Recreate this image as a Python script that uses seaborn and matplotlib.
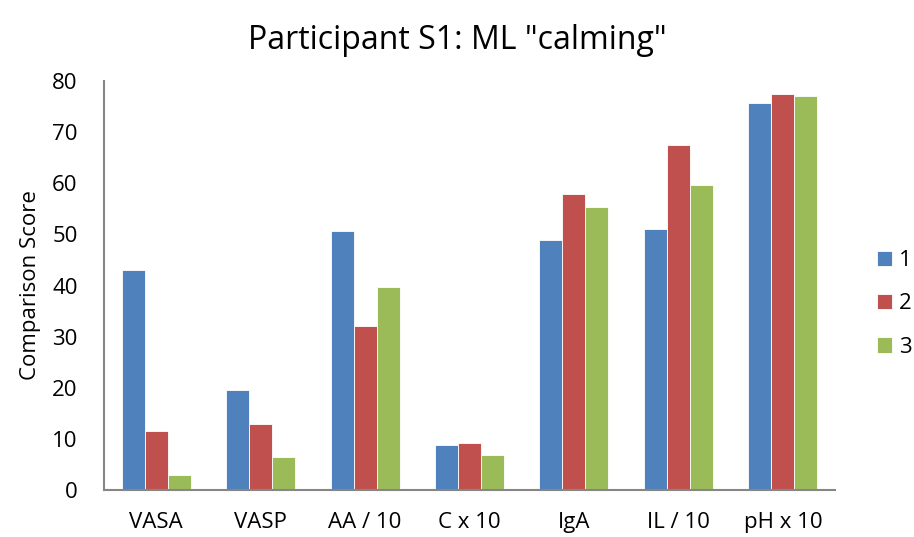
import matplotlib
matplotlib.use("Agg")
import matplotlib.pyplot as plt
import pandas as pd
import seaborn as sns

categories = ["VASA", "VASP", "AA / 10", "C x 10", "IgA", "IL / 10", "pH x 10"]
series_names = ["1", "2", "3"]
values_1 = [43.0, 19.5, 50.7, 8.9, 49.0, 51.0, 75.8]
values_2 = [11.5, 13.0, 32.0, 9.1, 58.0, 67.4, 77.5]
values_3 = [2.9, 6.5, 39.8, 6.9, 55.4, 59.6, 77.1]
colors = ["#4F81BD", "#C0504D", "#9BBB59"]

rows = []
for name, vals in zip(series_names, [values_1, values_2, values_3]):
    for cat, v in zip(categories, vals):
        rows.append({"category": cat, "series": name, "score": v})
df = pd.DataFrame(rows)

sns.set_style("white")
plt.rcParams["font.family"] = ["Open Sans", "DejaVu Sans"]
plt.rcParams["text.color"] = "black"
plt.rcParams["xtick.color"] = "black"
plt.rcParams["ytick.color"] = "black"
plt.rcParams["axes.labelcolor"] = "black"

fig = plt.figure(figsize=(9.14, 5.37), dpi=100)
ax = fig.add_axes([0.1138, 0.0875, 0.7998, 0.7615])

sns.barplot(data=df, x="category", y="score", hue="series", palette=colors,
            saturation=1, width=0.66, ax=ax, edgecolor="white", linewidth=0.6,
            errorbar=None)

ax.set_ylim(0, 80)
ax.set_xlim(-0.5, len(categories) - 0.5)
ax.set_yticks(range(0, 81, 10))
ax.tick_params(axis="both", labelsize=16, length=0)
ax.tick_params(axis="y", pad=19)
ax.tick_params(axis="x", pad=16)
ax.set_xlabel("")
ax.set_ylabel("Comparison Score", fontsize=16, labelpad=8)
for side in ["top", "right"]:
    ax.spines[side].set_visible(False)
for side in ["left", "bottom"]:
    ax.spines[side].set_color("#868686")
    ax.spines[side].set_linewidth(1.5)

fig.suptitle('Participant S1: ML "calming"', fontsize=23, y=0.955)

leg = ax.legend(loc="center left", bbox_to_anchor=(1.057, 0.455), frameon=False,
                fontsize=16, handlelength=0.7, handleheight=0.7,
                labelspacing=1.0, handletextpad=0.3, borderpad=0, borderaxespad=0)

fig.savefig("out.png", dpi=100)
